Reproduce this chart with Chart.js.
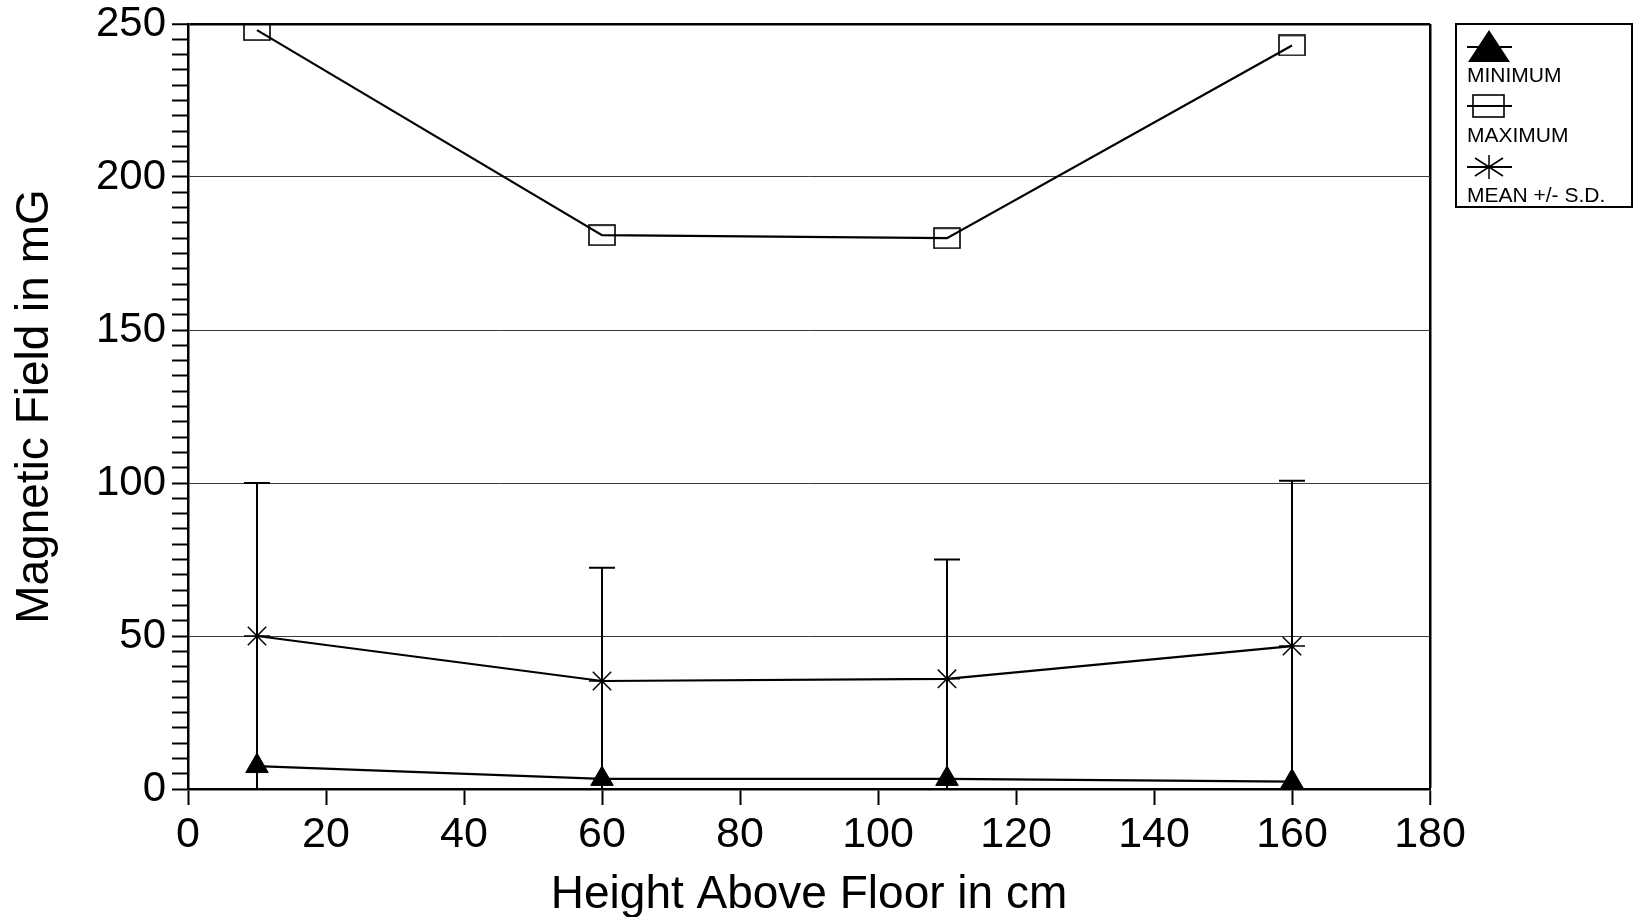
<!DOCTYPE html>
<html>
<head>
<meta charset="utf-8">
<script src="https://cdn.jsdelivr.net/npm/chart.js@4/dist/chart.umd.min.js"></script>
<style>
  html, body { margin: 0; padding: 0; background: #fff; }
  #wrap { width: 1633px; height: 917px; position: relative; }
</style>
</head>
<body>
<div id="wrap"><canvas id="field-chart"></canvas></div>
<script>
// values
const heights = [10, 60, 110, 160];
const minimum = [7.5, 3.3, 3.3, 2.4];
const maximum = [248, 181, 180, 243];
const mean = [50, 35.3, 36, 46.7];
const sd = [50, 37, 39, 54];
const yLabelled = [0, 50, 100, 150, 200, 250];

const FONT = "'Liberation Sans', Arial, Helvetica, sans-serif";

function boxImage(w, h) {
    const c = document.createElement('canvas');
    c.width = w + 2;
    c.height = h + 2;
    const g = c.getContext('2d');
    g.strokeStyle = '#000';
    g.lineWidth = 1.6;
    g.strokeRect(1, 1, w, h);
    return c;
}
const boxMarker = boxImage(26, 20);

function pts(values) {
    return heights.map((h, i) => ({x: h, y: values[i]}));
}

// vertical +/- S.D. bars on the mean series, cut at the x axis
const errorBars = {
    id: 'errorBars',
    beforeDatasetsDraw(chart) {
        const {ctx, scales: {x, y}} = chart;
        ctx.save();
        ctx.strokeStyle = '#000';
        ctx.lineWidth = 2;
        heights.forEach((h, i) => {
            const px = x.getPixelForValue(h);
            const top = y.getPixelForValue(mean[i] + sd[i]);
            const bot = y.getPixelForValue(Math.max(0, mean[i] - sd[i]));
            ctx.beginPath();
            ctx.moveTo(px, bot);
            ctx.lineTo(px, top);
            ctx.moveTo(px - 13, top);
            ctx.lineTo(px + 13, top);
            ctx.stroke();
        });
        ctx.restore();
    }
};

// boxed legend at the top right, marker above its label
const legendBox = {
    id: 'legendBox',
    afterDraw(chart) {
        const ctx = chart.ctx;
        const ds = chart.data.datasets;
        ctx.save();
        ctx.strokeStyle = '#000';
        ctx.fillStyle = '#000';
        ctx.lineWidth = 2;
        ctx.strokeRect(1456, 24, 176, 183);

        const lx = 1467, cx = 1489;
        const rows = [47, 106, 167];
        ctx.lineWidth = 2;
        rows.forEach(ry => {
            ctx.beginPath();
            ctx.moveTo(lx, ry);
            ctx.lineTo(lx + 45, ry);
            ctx.stroke();
        });
        // triangle
        ctx.beginPath();
        ctx.moveTo(cx, 30);
        ctx.lineTo(cx + 21, 62);
        ctx.lineTo(cx - 21, 62);
        ctx.closePath();
        ctx.fill();
        // box
        ctx.lineWidth = 1.6;
        ctx.strokeRect(cx - 16, 95, 31, 22);
        // asterisk
        ctx.lineWidth = 1.5;
        ctx.beginPath();
        ctx.moveTo(cx, 155); ctx.lineTo(cx, 179);
        ctx.moveTo(cx - 14, 158); ctx.lineTo(cx + 14, 176);
        ctx.moveTo(cx - 14, 176); ctx.lineTo(cx + 14, 158);
        ctx.stroke();

        ctx.font = '21px ' + FONT;
        ctx.textAlign = 'left';
        ctx.textBaseline = 'alphabetic';
        ctx.fillText(ds[0].label, lx, 82);
        ctx.fillText(ds[1].label, lx, 142);
        ctx.fillText(ds[2].label, lx, 202);
        ctx.restore();
    }
};

new Chart(document.getElementById('field-chart'), {
    type: 'line',
    data: {
        datasets: [
            {
                label: 'MINIMUM',
                data: pts(minimum),
                borderColor: '#000',
                borderWidth: 2.2,
                pointStyle: 'triangle',
                pointRadius: 13,
                pointBackgroundColor: '#000',
                pointBorderColor: '#000',
                pointBorderWidth: 1
            },
            {
                label: 'MAXIMUM',
                data: pts(maximum),
                borderColor: '#000',
                borderWidth: 2.2,
                pointStyle: boxMarker,
                pointRadius: 13
            },
            {
                label: 'MEAN +/- S.D.',
                data: pts(mean),
                borderColor: '#000',
                borderWidth: 2.2,
                pointStyle: 'star',
                pointRadius: 13,
                pointBorderColor: '#000',
                pointBorderWidth: 1.5
            }
        ]
    },
    options: {
        responsive: true,
        maintainAspectRatio: false,
        animation: false,
        layout: {padding: {top: 24, right: 203, left: 0, bottom: 0}},
        plugins: {
            legend: {display: false},
            tooltip: {enabled: false}
        },
        scales: {
            x: {
                type: 'linear',
                min: 0,
                max: 180,
                ticks: {
                    stepSize: 20,
                    color: '#000',
                    padding: 4,
                    font: {family: "'Liberation Sans Narrow', " + FONT, size: 43}
                },
                grid: {
                    color: c => c.tick && c.tick.value === 180 ? '#000' : 'rgba(0,0,0,0)',
                    lineWidth: c => c.tick && c.tick.value === 180 ? 2.5 : 1,
                    tickColor: '#000',
                    tickWidth: 2,
                    tickLength: 16
                },
                border: {color: '#000', width: 2.5},
                title: {
                    display: true,
                    text: 'Height Above Floor in cm',
                    color: '#000',
                    font: {family: FONT, size: 46, lineHeight: 0.8},
                    padding: {top: 0, bottom: 3}
                },
                afterFit: s => { s.height = 128; s.paddingLeft = 0; s.paddingRight = 0; }
            },
            y: {
                type: 'linear',
                min: 0,
                max: 250,
                ticks: {
                    stepSize: 5,
                    autoSkip: false,
                    color: '#000',
                    padding: 6,
                    font: {family: FONT, size: 42},
                    callback: v => yLabelled.includes(v) ? String(v) : ''
                },
                grid: {
                    color: c => {
                        const v = c.tick ? c.tick.value : -1;
                        if (v === 250) return '#000';
                        return v > 0 && v % 50 === 0 ? '#3a3a3a' : 'rgba(0,0,0,0)';
                    },
                    lineWidth: c => c.tick && c.tick.value === 250 ? 2.5 : 1,
                    tickColor: '#000',
                    tickWidth: 2,
                    tickLength: 16
                },
                border: {color: '#000', width: 2.5},
                title: {
                    display: true,
                    text: 'Magnetic Field in mG',
                    color: '#000',
                    font: {family: FONT, size: 46},
                    padding: {top: 8, bottom: 0}
                },
                afterFit: s => { s.width = 188; s.paddingTop = 0; s.paddingBottom = 0; }
            }
        }
    },
    plugins: [errorBars, legendBox]
});
</script>
</body>
</html>
